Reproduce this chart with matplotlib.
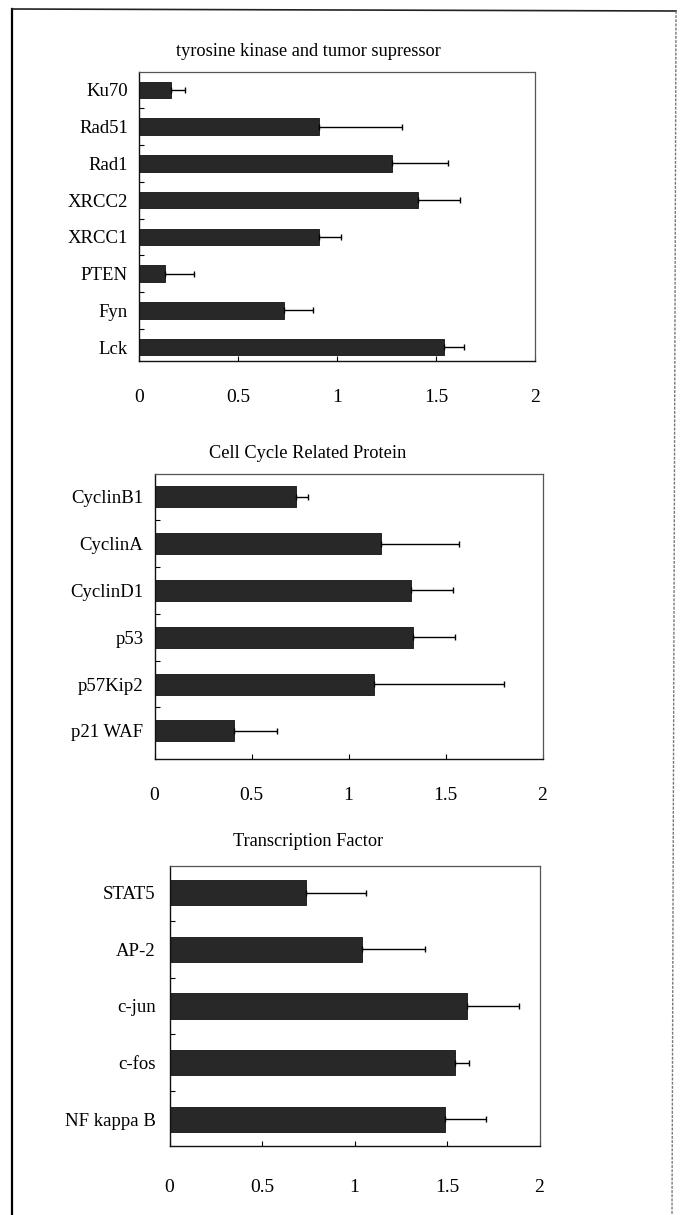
import matplotlib.pyplot as plt
from matplotlib.lines import Line2D

plt.rcParams['font.family'] = ['Liberation Serif', 'DejaVu Serif']

# tyrosine kinase and tumor supressor
tk_names = ["Ku70", "Rad51", "Rad1", "XRCC2", "XRCC1", "PTEN", "Fyn", "Lck"]
tk_mean = [0.16, 0.91, 1.28, 1.41, 0.91, 0.13, 0.73, 1.54]
tk_sd = [0.07, 0.42, 0.28, 0.21, 0.11, 0.15, 0.15, 0.10]

# cell cycle related protein
cc_names = ["CyclinB1", "CyclinA", "CyclinD1", "p53", "p57Kip2", "p21 WAF"]
cc_mean = [0.73, 1.17, 1.32, 1.33, 1.13, 0.41]
cc_sd = [0.06, 0.40, 0.22, 0.22, 0.67, 0.22]

# transcription factor
tf_names = ["STAT5", "AP-2", "c-jun", "c-fos", "NF kappa B"]
tf_mean = [0.74, 1.04, 1.61, 1.545, 1.49]
tf_sd = [0.32, 0.34, 0.28, 0.075, 0.22]

xticks = [0, 0.5, 1, 1.5, 2]
xticklabels = ["0", "0.5", "1", "1.5", "2"]

fig = plt.figure(figsize=(6.8, 12.15), dpi=100)

def panel(rect, title, title_y, names, mean, sd, top, bottom, xpad, ypad):
    ax = fig.add_axes(rect)
    pos = list(range(len(names)))
    ax.barh(pos, mean, height=0.45, color='#282828', edgecolor='#111111', linewidth=0.6,
            xerr=[[0] * len(sd), sd], error_kw=dict(ecolor='black', elinewidth=1.0,
                                                    capsize=2.5, capthick=1.0))
    ax.set_xlim(0, 2)
    ax.set_ylim(len(names) - 1 + bottom, -top)
    ax.set_yticks(pos)
    ax.set_yticklabels(names, fontsize=13.5)
    ax.set_yticks([p + 0.5 for p in pos[:-1]], minor=True)
    ax.set_xticks(xticks)
    ax.set_xticklabels(xticklabels, fontsize=14)
    ax.tick_params(axis='y', which='major', length=0, pad=ypad)
    ax.tick_params(axis='y', which='minor', direction='in', length=3.5, width=0.8)
    ax.tick_params(axis='x', direction='in', length=3.5, width=0.8, pad=xpad)
    for s in ['left', 'bottom']:
        ax.spines[s].set_linewidth(1.0)
        ax.spines[s].set_color('#111111')
    for s in ['top', 'right']:
        ax.spines[s].set_linewidth(0.9)
        ax.spines[s].set_color('#555555')
        ax.spines[s].set_linestyle((0, (1.5, 1)))
    fig.text(308 / 680, 1 - title_y / 1215, title, fontsize=13.2, ha='center', va='center')
    return ax

panel([139 / 680, 1 - 361 / 1215, 396 / 680, 289 / 1215],
      "tyrosine kinase and tumor supressor", 52,
      tk_names, tk_mean, tk_sd, 0.49, 0.38, 20, 8)
panel([154.5 / 680, 1 - 759 / 1215, 388 / 680, 285 / 1215],
      "Cell Cycle Related Protein", 453,
      cc_names, cc_mean, cc_sd, 0.485, 0.6, 20, 8)
panel([169.5 / 680, 1 - 1146 / 1215, 370 / 680, 280 / 1215],
      "Transcription Factor", 842,
      tf_names, tf_mean, tf_sd, 0.47, 0.47, 24, 10)

# outer frame
fig.add_artist(Line2D([12 / 680, 12 / 680], [0, 1 - 9 / 1215], color='black', lw=1.6,
                      transform=fig.transFigure))
fig.add_artist(Line2D([12 / 680, 676 / 680], [1 - 9 / 1215, 1 - 11 / 1215], color='#222222',
                      lw=1.2, transform=fig.transFigure))
fig.add_artist(Line2D([676 / 680, 672 / 680], [1 - 11 / 1215, 0], color='#777777', lw=1.0,
                      linestyle=(0, (2, 1)), transform=fig.transFigure))

fig.savefig("out.png", dpi=100, facecolor='white')
